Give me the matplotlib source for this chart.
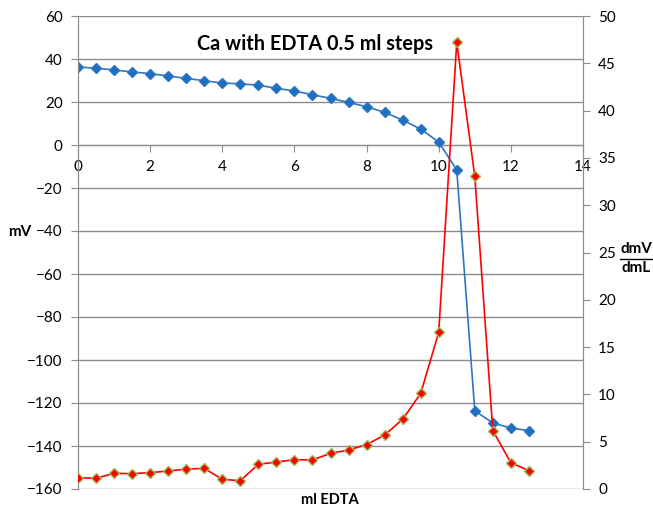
import matplotlib
matplotlib.use("Agg")
import matplotlib.pyplot as plt
from matplotlib.lines import Line2D

# ml of EDTA added
ml = [0, 0.5, 1, 1.5, 2, 2.5, 3, 3.5, 4, 4.5, 5, 5.5, 6, 6.5, 7, 7.5,
      8, 8.5, 9, 9.5, 10, 10.5, 11, 11.5, 12, 12.5]
# electrode potential (mV)
mv = [36.3, 35.7, 34.9, 34.0, 33.2, 32.1, 31.0, 29.9, 28.8, 28.5, 27.8, 26.4,
      25.1, 23.4, 21.7, 19.8, 17.8, 15.2, 11.6, 7.4, 1.4, -11.6, -123.6,
      -129.3, -131.6, -132.9]
# first derivative dmV/dmL
dmv = [1.19, 1.13, 1.66, 1.62, 1.73, 1.90, 2.11, 2.18, 1.02, 0.88, 2.61, 2.85,
       3.10, 3.07, 3.77, 4.12, 4.69, 5.71, 7.37, 10.1, 16.56, 47.2, 33.05,
       6.17, 2.78, 1.94]

plt.rcParams['font.family'] = ['Lato', 'DejaVu Sans']
grey = '#8c8c8c'

fig = plt.figure(figsize=(6.53, 5.09), dpi=100)
ax = fig.add_axes([78 / 653, 20 / 509, 505 / 653, 473 / 509])
ax2 = ax.twinx()

ax.plot(ml, mv, color='#2f75c0', lw=1.2, marker='D', ms=5.5,
        markerfacecolor='#1f6fc0', markeredgecolor='#2f75c0', zorder=3)
ax2.plot(ml, dmv, color='#ff0000', lw=1.2, marker='D', ms=5.5,
         markerfacecolor='#ff0000', markeredgecolor='#9bbb59', mew=1.0, zorder=3)

ax.set_xlim(0, 14)
ax.set_ylim(-160, 60)
ax2.set_ylim(0, 50)
ax.set_xticks(range(0, 15, 2))
ax.set_yticks(range(-160, 61, 20))
ax2.set_yticks(range(0, 51, 5))

ax.yaxis.grid(True, color=grey, lw=1)
ax.set_axisbelow(True)

for a in (ax, ax2):
    a.spines['top'].set_visible(False)
    a.spines['left'].set_color(grey)
    a.spines['right'].set_color(grey)
ax.spines['bottom'].set_position(('data', 0))
ax.spines['bottom'].set_color(grey)
ax2.spines['bottom'].set_visible(False)

ax.tick_params(axis='y', direction='out', length=5, color=grey, labelsize=11, pad=6)
ax.tick_params(axis='x', direction='out', length=5, color=grey, labelsize=11, pad=6)
ax2.tick_params(axis='y', direction='out', length=5, color=grey, labelsize=11, pad=6)

ax.text(0.47, 0.94, 'Ca with EDTA 0.5 ml steps', transform=ax.transAxes,
        ha='center', va='center', fontsize=14.3, fontweight='bold')

fig.text(20 / 653, 1 - 232 / 509, 'mV', ha='center', va='center',
         fontsize=11, fontweight='bold')
fig.text(636 / 653, 1 - 249 / 509, 'dmV', ha='center', va='center',
         fontsize=11, fontweight='bold')
fig.text(636 / 653, 1 - 268 / 509, 'dmL', ha='center', va='center',
         fontsize=11, fontweight='bold')
fig.add_artist(Line2D([620 / 653, 652 / 653], [1 - 259 / 509, 1 - 259 / 509],
                      color='black', lw=1))
fig.text(330 / 653, 1 - 500 / 509, 'ml EDTA', ha='center', va='center',
         fontsize=10.5, fontweight='bold')

fig.savefig('out.png', dpi=100)
